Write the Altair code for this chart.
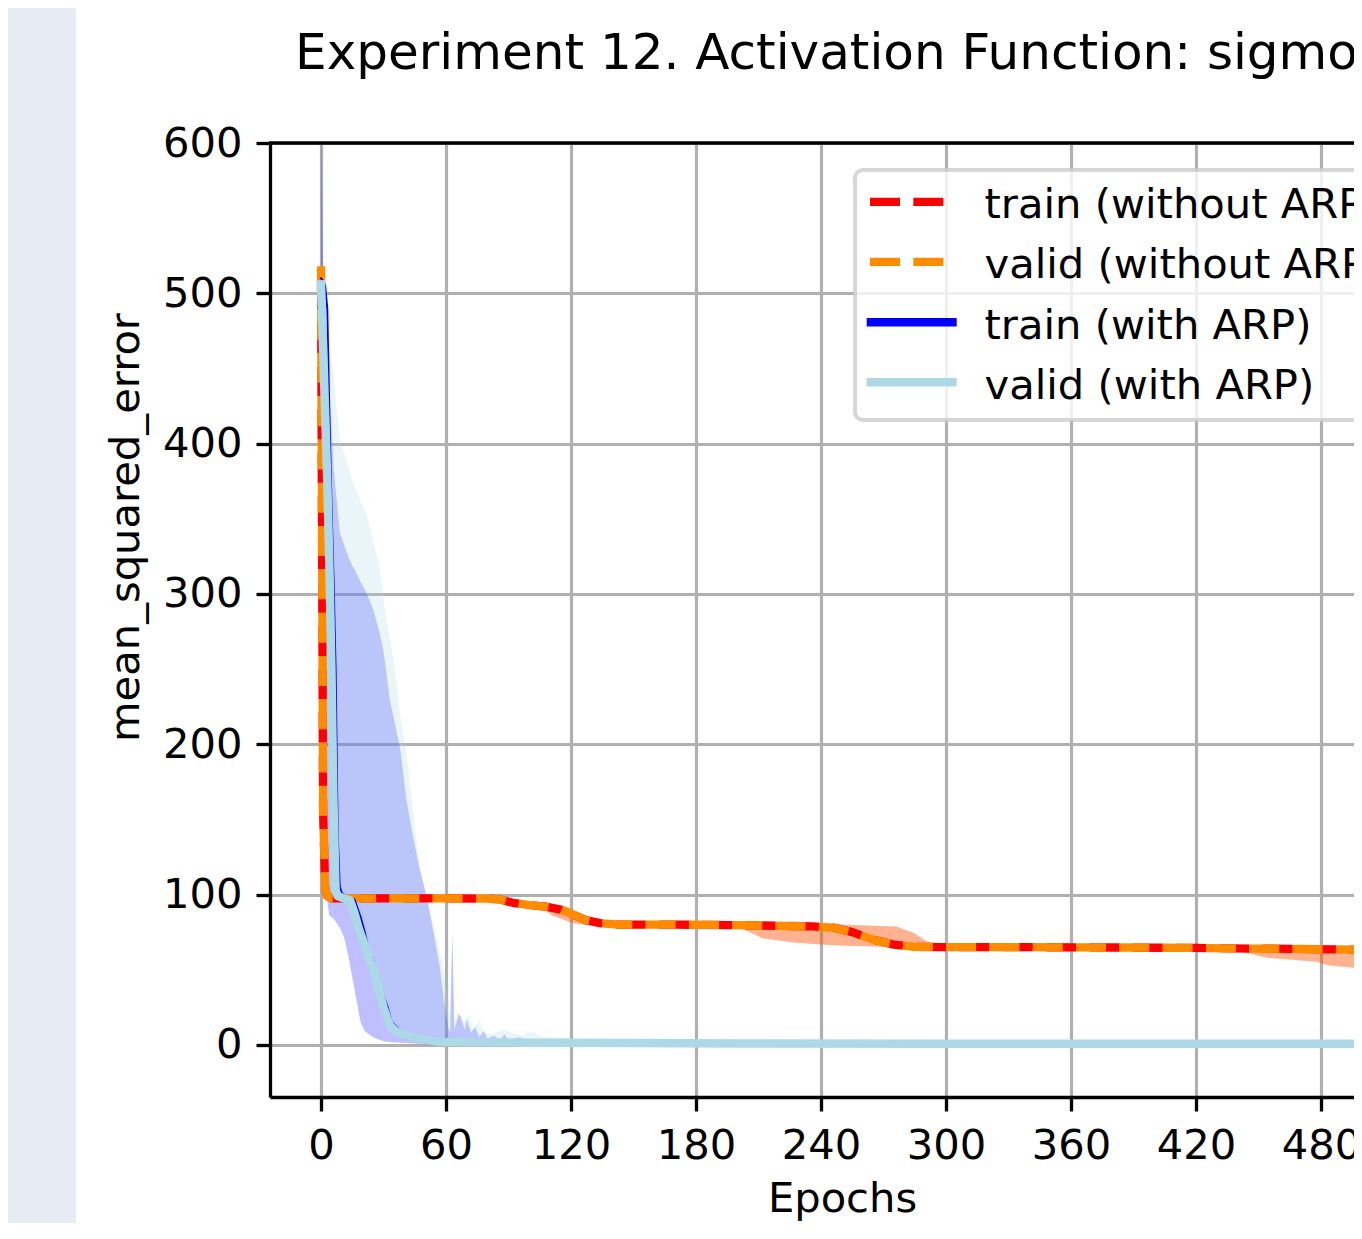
import altair as alt
import pandas as pd

# ---------------- data ----------------
SERIES = ["train (without ARP)", "valid (without ARP)", "train (with ARP)", "valid (with ARP)"]
COLORS = ["#ff0000", "#ff8c00", "#0000ff", "#add8e6"]

X_TICKS = [0, 60, 120, 180, 240, 300, 360, 420, 480]
Y_TICKS = [0, 100, 200, 300, 400, 500, 600]

# train (without ARP) mean curve
noarp_train_epoch = [0, 1, 2, 3, 5, 20, 40, 60, 80, 86, 92, 100, 108, 115, 121, 127, 134, 143, 170, 200,
                     236, 246, 255, 265, 275, 284, 300, 340, 380, 420, 438, 470, 499]
noarp_train_mse = [515, 155, 104, 99, 97.5, 97.5, 97.5, 97.5, 97.3, 96.8, 94.5, 93, 92, 90, 86.7, 83, 81, 80, 80, 79.7,
                   78.8, 78, 75, 70, 66.7, 65.3, 65, 65, 64.8, 64.5, 64.2, 63.8, 63.3]
# valid (without ARP) mean curve
noarp_valid_epoch = [0, 1, 2, 3, 5, 20, 40, 60, 80, 86, 92, 100, 108, 115, 121, 127, 134, 143, 170, 200,
                     236, 246, 255, 265, 275, 284, 300, 340, 380, 420, 438, 470, 499]
noarp_valid_mse = [518, 158, 104, 99, 97.5, 97.5, 97.5, 97.5, 97.3, 96.8, 94.5, 93, 92, 90, 86.7, 83, 81, 80, 80, 79.7,
                   78.8, 78, 75, 70, 66.7, 65.3, 65, 65, 64.8, 64.5, 64.2, 63.8, 63.3]

# spread band (without ARP), same for train and valid
noarp_band_epoch = [0, 1, 2, 3, 5, 86, 92, 100, 108, 111, 115, 118, 121, 125, 130, 134, 143, 195, 201, 212,
                    228, 244, 252, 265, 276, 284, 291, 300, 430, 438, 454, 478, 483, 499]
noarp_band_lo = [505, 140, 100, 97, 96.5, 96.5, 93.5, 91.5, 89, 86, 84, 82.5, 81, 80.3, 79.8, 79.5, 79.3, 79, 78, 71,
                 68, 66.5, 66, 65.5, 65, 64.7, 64.6, 64.5, 64.3, 63.5, 58, 55.3, 53, 51]
noarp_band_hi = [525, 170, 108, 100, 98.5, 98, 95.5, 94, 93, 92.5, 92, 92, 90, 85.5, 82, 81, 80.5, 80.2, 80.2, 80.3,
                 80.3, 80.3, 80, 79.2, 78.7, 74.7, 68.7, 65.5, 65.2, 65, 64.6, 64.2, 64, 63.7]

# train (with ARP) mean curve
arp_train_epoch = [0, 1, 2, 3, 4, 5, 6, 7, 8, 9, 10, 12, 14, 16, 17, 19, 21, 23, 25, 28,
                   30, 32, 34, 37, 41, 46, 50, 60, 80, 100, 150, 200, 300, 400, 499]
arp_train_mse = [510, 508, 505, 490, 420, 360, 310, 250, 140, 105, 101, 99, 98, 97, 93, 85, 75, 62, 57, 41,
                 33, 25, 15, 11, 8, 3, 2.5, 2, 1.8, 1.5, 1.3, 1.2, 1, 1, 1]
# valid (with ARP) mean curve
arp_valid_epoch = [0, 1, 2, 3, 4, 5, 6, 7, 8, 10, 12, 14, 16, 18, 19, 21, 23, 25, 27, 30,
                   33, 36, 40, 44, 50, 57, 70, 100, 150, 200, 300, 400, 499]
arp_valid_mse = [506, 465, 420, 375, 320, 250, 160, 103, 99, 98, 97, 96, 88, 78, 74, 66, 58, 51, 41, 25,
                 13, 9, 7, 5, 3.5, 2, 1.8, 1.5, 1.2, 1, 0.8, 0.7, 0.7]

# spread band (train with ARP)
arp_train_band_epoch = [0, 1, 2, 3, 4, 6, 9, 11, 13, 15, 17, 19, 21, 23, 25, 28, 30, 33, 38, 41,
                        44, 47, 51, 54, 57, 59, 61, 62, 63, 64, 66, 67, 69, 70, 72, 74, 76, 78, 80, 83,
                        86, 88, 90, 95, 100, 110, 120, 140, 200, 300, 400, 499]
arp_train_band_hi = [630, 505, 490, 470, 440, 385, 341, 333, 325, 319, 314, 308, 303, 297, 290, 275, 262, 230, 197, 163,
                     140, 119, 97, 75, 52, 30, 12, 8, 75, 10, 20, 19, 10, 17, 8, 12, 5, 9, 4, 6,
                     3, 7, 3, 5, 3, 4, 2.5, 2, 2, 1.8, 1.5, 1.5]
arp_train_band_lo = [480, 380, 250, 95, 86, 84, 78, 72, 60, 45, 30, 15, 9, 7, 5, 3.5, 2.5, 2, 1.5, 1.2,
                     1, 0.8, 0.5, 0.5, 0.3, 0.2, 0.2, 0.2, 0.2, 0.2, 0.2, 0, 0, 0, 0, 0, 0, 0, 0, 0,
                     0, 0, 0, 0, 0, 0, 0, 0, 0, 0, 0, 0]

# spread band (valid with ARP)
arp_valid_band_epoch = [0, 1, 3, 6, 9, 12, 15, 22, 28, 31, 34, 36, 38, 41, 43, 45, 47, 50, 54, 58,
                        61, 62, 63, 64, 66, 68, 71, 73, 76, 78, 82, 87, 92, 97, 101, 106, 116, 125, 140, 200,
                        300, 499]
arp_valid_band_hi = [520, 500, 470, 445, 403, 390, 375, 352, 319, 285, 263, 245, 219, 195, 170, 145, 122, 100, 80, 55,
                     32, 20, 70, 15, 22, 15, 20, 10, 17, 9, 7, 10, 8, 6, 9, 5, 5, 3, 2, 1.5,
                     1.2, 1]
arp_valid_band_lo = [490, 440, 340, 120, 94, 93, 88, 60, 35, 15, 9, 7, 6, 5, 4.5, 4, 3.5, 3, 2, 1.5,
                     1, 1, 1, 1, 1, 1, 1, 1, 1, 1, 0.8, 0.8, 0.8, 0.8, 0.8, 0.8, 0.6, 0.6, 0.5, 0.4,
                     0.3, 0.3]

TITLE = "Experiment 12. Activation Function: sigmoid"

# ---------------- layout ----------------
FONT = "DejaVu Sans"
FS = 41.67
W, H = 1084, 954
xs = alt.Scale(domain=[-24.48, 495.84], nice=False, zero=False)
ys = alt.Scale(domain=[-34.67, 600], nice=False, zero=False)

common_axis = dict(
    labelFont=FONT, labelFontSize=FS, labelColor="black", labelPadding=14,
    labelFlush=False, labelOverlap=False, labelBound=False,
    titleFont=FONT, titleFontSize=FS, titleColor="black", titleFontWeight="normal",
    tickSize=14, tickWidth=3.3, tickColor="black",
    domainColor="black", domainWidth=3.3,
    grid=True, gridColor="#b0b0b0", gridWidth=3.2,
    format="d",
)
x_axis = alt.Axis(values=X_TICKS, title="Epochs", titleX=572, titleY=114.7,
                  titleBaseline="alphabetic", titleAlign="center", **common_axis)
y_axis = alt.Axis(values=Y_TICKS, title="mean_squared_error", titleAngle=270, titleX=-132, titleY=384,
                  titleBaseline="alphabetic", titleAlign="center", **common_axis)

one = pd.DataFrame({"k": [0]})


def band(ep, lo, hi, color):
    df = pd.DataFrame({"epoch": ep, "lo": lo, "hi": hi})
    return alt.Chart(df).mark_area(color=color, opacity=0.25, clip=True).encode(
        x=alt.X("epoch:Q", scale=xs, axis=x_axis),
        y=alt.Y("hi:Q", scale=ys, axis=y_axis),
        y2="lo:Q",
    )


def line(ep, v, color, width, dash=None, offset=None, cap="butt"):
    df = pd.DataFrame({"epoch": ep, "hi": v})
    kw = dict(color=color, strokeWidth=width, clip=True, strokeJoin="round", strokeCap=cap)
    if dash is not None:
        kw["strokeDash"] = dash
    if offset is not None:
        kw["strokeDashOffset"] = offset
    return alt.Chart(df).mark_line(**kw).encode(
        x=alt.X("epoch:Q", scale=xs, axis=x_axis),
        y=alt.Y("hi:Q", scale=ys, axis=y_axis),
    )


DASH = [30, 13.3]

strip = alt.Chart(one).mark_rect(color="#e6ebf4").encode(
    x=alt.value(-262), x2=alt.value(-194), y=alt.value(-135), y2=alt.value(H + 140))

bands = [
    band(noarp_band_epoch, noarp_band_lo, noarp_band_hi, COLORS[0]),
    band(noarp_band_epoch, noarp_band_lo, noarp_band_hi, COLORS[1]),
    band(arp_train_band_epoch, arp_train_band_lo, arp_train_band_hi, COLORS[2]),
    band(arp_valid_band_epoch, arp_valid_band_lo, arp_valid_band_hi, COLORS[3]),
]
lines = [
    line(noarp_train_epoch, noarp_train_mse, COLORS[0], 8.3, dash=DASH, offset=34.3),
    line(noarp_valid_epoch, noarp_valid_mse, COLORS[1], 8.3, dash=DASH),
    line(arp_train_epoch, arp_train_mse, COLORS[2], 2, cap="square"),
    line(arp_valid_epoch, arp_valid_mse, COLORS[3], 8.5, cap="square"),
]

top_spine = alt.Chart(one).mark_rule(color="black", strokeWidth=3.3).encode(
    x=alt.value(-1.1), x2=alt.value(W + 20), y=alt.value(0))

legend_box = alt.Chart(one).mark_rect(
    fill="white", fillOpacity=0.8, stroke="#cccccc", strokeOpacity=0.8, strokeWidth=4, cornerRadius=8
).encode(x=alt.value(585), x2=alt.value(1250), y=alt.value(27), y2=alt.value(277))

legend_layers = []
row_y = [58.8, 118.8, 179.3, 239.3]
for i, name in enumerate(SERIES):
    if i < 2:
        h = alt.Chart(one).mark_rule(color=COLORS[i], strokeWidth=8.3, strokeDash=DASH, strokeCap="butt").encode(
            x=alt.value(600), x2=alt.value(674), y=alt.value(row_y[i]))
    else:
        h = alt.Chart(one).mark_rule(color=COLORS[i], strokeWidth=8.5, strokeCap="butt").encode(
            x=alt.value(596.7), x2=alt.value(686.7), y=alt.value(row_y[i]))
    t = alt.Chart(pd.DataFrame({"label": [name]})).mark_text(
        align="left", baseline="alphabetic", fontSize=FS, font=FONT, color="black"
    ).encode(x=alt.value(714.5), y=alt.value(row_y[i] + 16.5), text="label:N")
    legend_layers += [h, t]

title = alt.Chart(pd.DataFrame({"t": [TITLE]})).mark_text(
    align="left", baseline="alphabetic", fontSize=50, font=FONT, color="black"
).encode(x=alt.value(25.1), y=alt.value(-74), text="t:N")

chart = alt.layer(strip, *bands, *lines, top_spine, legend_box, *legend_layers, title).properties(
    width=W, height=H,
    autosize=alt.AutoSizeParams(type="none"),
    padding={"left": 262, "top": 135, "right": 0, "bottom": 126},
).configure_view(stroke=None).configure(background="white", font=FONT)

chart.save("out.html", embed_options={"renderer": "svg", "actions": False})
